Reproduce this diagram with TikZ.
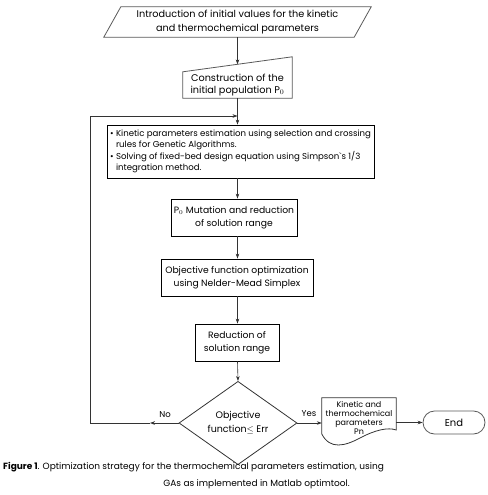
\documentclass[tikz,border=0pt]{standalone}
\usepackage{fontspec}
\setmainfont{Poppins}
\usetikzlibrary{shapes.geometric,arrows.meta,calc}
\begin{document}
\begin{tikzpicture}[x=1pt,y=-1pt,
  txt/.style={align=center, inner sep=0pt},
  fnt/.style={font=\fontsize{9.2}{12.5}\selectfont},
  box/.style={draw=black, line width=0.9pt, align=center, inner sep=0pt, fnt},
  gline/.style={draw=black!65, line width=0.8pt},
  arr/.style={-{Stealth[length=5pt,width=3.6pt]}, line width=0.6pt, draw=black!80},
  lbl/.style={font=\fontsize{8.5}{10}\selectfont, inner sep=0pt}
]
\useasboundingbox (0,0) rectangle (487,495);

% input parallelogram
\node[txt, font=\fontsize{9.7}{14}\selectfont, minimum width=250, minimum height=30] (in) at (237.5,22)
  {Introduction of initial values for the kinetic\\and thermochemical parameters};
\draw[gline] ($(in.north west)+(8.5,0)$) -- ($(in.north east)+(8.5,0)$)
  -- ($(in.south east)+(-8.5,0)$) -- ($(in.south west)+(-8.5,0)$) -- cycle;

% manual input
\node[txt, font=\fontsize{9.7}{12}\selectfont, minimum width=109, minimum height=26] (pop) at (237.5,85)
  {Construction of the\\initial population P$_0$};
\coordinate (popNE) at ($(pop.north east)+(0,-15)$);
\coordinate (poptop) at ($(pop.north west)!0.5!(popNE)$);
\draw[gline] (pop.south west) -- (pop.north west) -- (popNE) -- (pop.south east) -- cycle;

% bullet box
\node[box, align=left, minimum width=267, minimum height=53,
      font=\fontsize{8.6}{10.6}\selectfont] (bul) at (240.5,151.5)
  {\makebox[6pt][l]{\textbullet}Kinetic parameters estimation using selection and crossing\\
   \hspace*{6pt}rules for Genetic Algorithms.\\[2pt]
   \makebox[6pt][l]{\textbullet}Solving of fixed-bed design equation using Simpson\textasciigrave s 1/3\\
   \hspace*{6pt}integration method.};

\node[box, minimum width=126, minimum height=37] (mut) at (234,217.5)
  {P$_0$ Mutation and reduction\\of solution range};
\node[box, minimum width=152, minimum height=37] (obj) at (237,277.5)
  {Objective function optimization\\using Nelder-Mead Simplex};
\node[box, minimum width=84, minimum height=37] (red) at (237,342.5)
  {Reduction of\\solution range};

\node[draw=black!80, line width=0.8pt, diamond, minimum width=118, minimum height=66,
      inner sep=0pt, align=center, font=\fontsize{9.5}{14}\selectfont] (dec) at (238,423)
  {Objective\\function$\leq$ Err};

% document
\node[txt, minimum width=74, minimum height=40, font=\fontsize{8}{8.7}\selectfont] (doc) at (359,418)
  {Kinetic and\\thermochemical\\parameters\\Pn};
\draw[gline, draw=black!80] (doc.north west) -- (doc.north east) -- ($(doc.east)+(0,12)$)
  .. controls (388,427) and (375,430) .. (360,438)
  .. controls (345,446) and (330,450) .. ($(doc.west)+(0,16)$) -- cycle;

\node[draw=black!65, line width=0.8pt, rounded corners=11.5pt, minimum width=62, minimum height=23,
      font=\fontsize{10}{11}\selectfont] (end) at (454,422.5) {End};

% connectors
\draw[arr] (in.south) -- (poptop);
\draw[arr] (pop.south) -- (pop.south |- bul.north);
\draw[arr] (pop.south |- bul.south) -- (pop.south |- mut.north);
\draw[arr] (pop.south |- mut.south) -- (pop.south |- obj.north);
\draw[arr] (pop.south |- obj.south) -- (pop.south |- red.north);
\draw[arr] (pop.south |- red.south) -- (dec.north);
\draw[arr] (dec.east) -- (doc.west |- dec.east);
\draw[arr] (doc.east |- end.west) -- (end.west);

\coordinate (nomid) at (150,423);
\coordinate (lc1) at (90,423);
\coordinate (lc2) at (90,116);
\coordinate (join) at (237.5,116);
\draw[arr] (dec.west) -- (nomid);
\draw[arr] (nomid) -- (lc1) -- (lc2) -- (join);

\node[lbl] (nolbl) at (165,415) {No};
\node[lbl] (yeslbl) at (309,414) {Yes};

% caption
\node[anchor=west, inner sep=0pt, font=\fontsize{9}{10}\selectfont] (cap1) at (3,467)
  {\textbf{Figure 1}. Optimization strategy for the thermochemical parameters estimation, using};
\node[anchor=east, inner sep=0pt, font=\fontsize{9}{10}\selectfont] (cap2) at (350,484)
  {GAs as implemented in Matlab optimtool.};
\end{tikzpicture}
\end{document}
